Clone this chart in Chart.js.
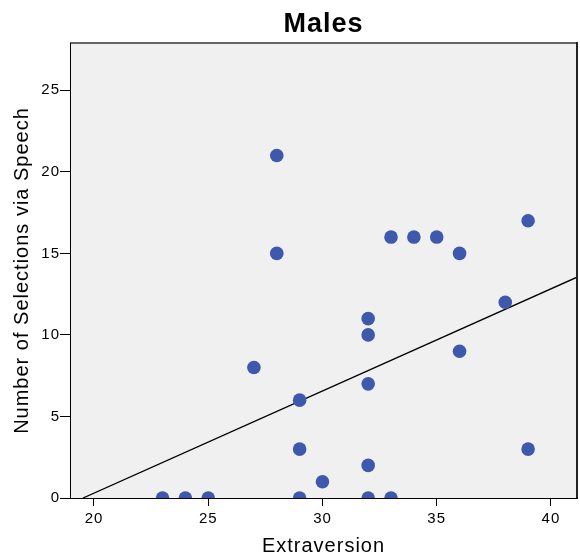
<!DOCTYPE html>
<html>
<head>
<meta charset="utf-8">
<script src="https://cdn.jsdelivr.net/npm/chart.js@4.4.0/dist/chart.umd.min.js"></script>
<style>
  html, body { margin: 0; padding: 0; background: #fff; }
</style>
</head>
<body>
<canvas id="scatter" width="580" height="558"></canvas>
<script>
// one entry per respondent
const extraversion = [23, 24, 25, 27, 28, 28, 29, 29, 29, 30, 32, 32, 32, 32, 32, 33, 33, 34, 35, 36, 36, 38, 39, 39];
const selections = [0, 0, 0, 8, 21, 15, 6, 3, 0, 1, 11, 10, 7, 2, 0, 0, 16, 16, 16, 15, 9, 12, 17, 3];

// fit line ends (x, y)
const fitX = [19.52, 41.14];
const fitY = [0, 13.54];

const xTicks = [20, 25, 30, 35, 40];
const yTicks = [0, 5, 10, 15, 20, 25];

const FONT = "'Liberation Sans', Arial, Helvetica, sans-serif";

// slightly spaced-out lettering everywhere
const spacing = {
  id: "spacing",
  beforeUpdate(chart) { chart.ctx.letterSpacing = "1px"; },
  beforeDraw(chart) { chart.ctx.letterSpacing = "1px"; },
};

// grey plot panel; top and right edges of the frame
const panel = {
  id: "panel",
  beforeDatasetsDraw(chart) {
    const { ctx, chartArea: a } = chart;
    ctx.save();
    ctx.fillStyle = "#f0f0f0";
    ctx.fillRect(a.left, a.top, a.right - a.left, a.bottom - a.top);
    ctx.restore();
  },
  afterDatasetsDraw(chart) {
    const { ctx, chartArea: a } = chart;
    ctx.save();
    ctx.lineWidth = 2;
    ctx.strokeStyle = "#666";
    ctx.beginPath();
    ctx.moveTo(a.left, a.top);
    ctx.lineTo(a.right, a.top);
    ctx.stroke();
    ctx.strokeStyle = "#222";
    ctx.beginPath();
    ctx.moveTo(a.right, a.top - 1);
    ctx.lineTo(a.right, a.bottom);
    ctx.stroke();
    ctx.restore();
  },
};

const points = extraversion.map((x, i) => ({ x: x, y: selections[i] }));
const fitLine = fitX.map((x, i) => ({ x: x, y: fitY[i] }));

new Chart(document.getElementById("scatter"), {
  type: "scatter",
  data: {
    datasets: [
      {
        data: points,
        backgroundColor: "#3e58ac",
        borderWidth: 0,
        pointRadius: 6.8,
        pointHoverRadius: 6.8,
        clip: 0,
        order: 1,
      },
      {
        type: "line",
        data: fitLine,
        borderColor: "#000",
        borderWidth: 1.3,
        pointRadius: 0,
        fill: false,
        clip: 0,
        order: 2,
      },
    ],
  },
  options: {
    responsive: false,
    animation: false,
    layout: { autoPadding: false, padding: { left: 0, right: 3, top: 0, bottom: 0 } },
    plugins: {
      legend: { display: false },
      tooltip: { enabled: false },
      title: {
        display: true,
        fullSize: false,
        text: "Males",
        color: "#000",
        font: { family: FONT, size: 27, weight: "bold" },
        padding: { top: 8.5, bottom: 2.1 },
      },
    },
    scales: {
      x: {
        type: "linear",
        min: 18.95,
        max: 41.14,
        afterBuildTicks: (s) => { s.ticks = xTicks.map((v) => ({ value: v })); },
        afterFit: (s) => { s.height = 60; },
        grid: { drawOnChartArea: false, drawTicks: true, tickLength: 8, color: "#000" },
        border: { display: true, color: "#000", z: 1 },
        ticks: { color: "#000", font: { family: FONT, size: 15 }, padding: 4, maxRotation: 0 },
        title: {
          display: true,
          text: "Extraversion",
          color: "#000",
          font: { family: FONT, size: 20 },
          padding: { top: 0, bottom: 0 },
        },
      },
      y: {
        type: "linear",
        min: 0,
        max: 27.9,
        afterBuildTicks: (s) => { s.ticks = yTicks.map((v) => ({ value: v })); },
        afterFit: (s) => { s.width = 70; },
        grid: { drawOnChartArea: false, drawTicks: true, tickLength: 10, color: "#000" },
        border: { display: true, color: "#000", z: 1 },
        ticks: { color: "#000", font: { family: FONT, size: 15 }, padding: 0 },
        title: {
          display: true,
          text: "Number of Selections via Speech",
          color: "#000",
          font: { family: FONT, size: 20 },
          padding: { top: 10, bottom: 0 },
        },
      },
    },
  },
  plugins: [spacing, panel],
});
</script>
</body>
</html>
